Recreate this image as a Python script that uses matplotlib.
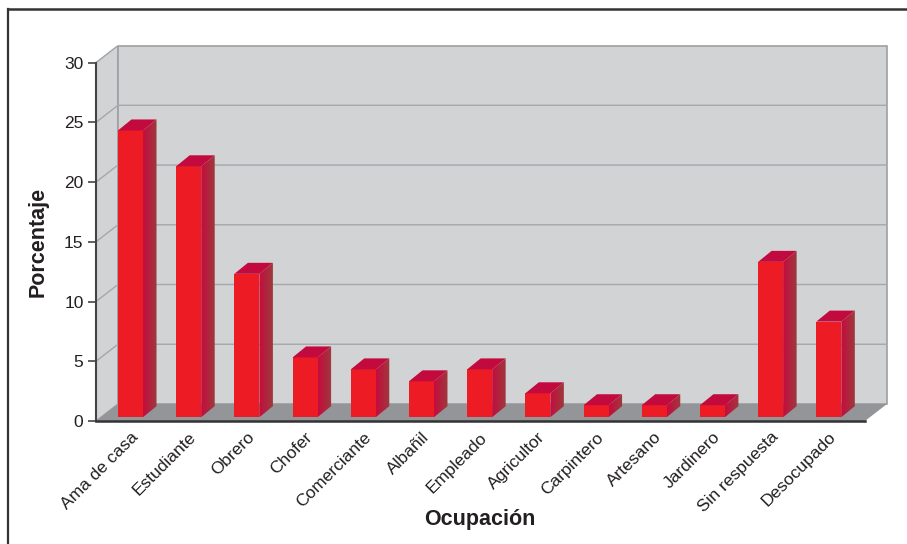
import numpy as np
import matplotlib
matplotlib.use("Agg")
import matplotlib.pyplot as plt
from matplotlib.patches import Polygon
from matplotlib.lines import Line2D
from matplotlib.colors import LinearSegmentedColormap
from matplotlib.transforms import ScaledTranslation

plt.rcParams['font.family'] = ['Liberation Sans', 'DejaVu Sans']

# Datos
ocupaciones = ['Ama de casa', 'Estudiante', 'Obrero', 'Chofer', 'Comerciante',
               'Albañil', 'Empleado', 'Agricultor', 'Carpintero', 'Artesano',
               'Jardinero', 'Sin respuesta', 'Desocupado']
porcentajes = [24, 21, 12, 5, 4, 3, 4, 2, 1, 1, 1, 13, 8]
yticks = [0, 5, 10, 15, 20, 25, 30]

# estilo pseudo 3D
wall = '#d1d3d4'
floor = '#939598'
grid_c = '#a5a7aa'
front_c = '#ed1c24'
top_c = '#c20a3e'
side_cmap = LinearSegmentedColormap.from_list('side', ['#c40c3e', '#9e3a3c'])

x0, x1 = -0.593, 13.0        # limites en x
ymax = 31.43
ddx, ddy = 0.378, 1.425       # profundidad de la caja
bw = 0.215                    # media anchura de la barra
bdx, bdy = 0.232, 0.92        # profundidad de la barra
boff = 0.32                   # barra algo detras del frente

fig = plt.figure(figsize=(9.07, 5.44), dpi=100)
ax = fig.add_axes([96 / 907, 123 / 544, 791 / 907, 375.5 / 544])
ax.set_xlim(x0, x1)
ax.set_ylim(0, ymax)

xf_end = x1 - ddx
ytop = yticks[-1]

# paredes y piso
ax.add_patch(Polygon([(x0, 0), (x0 + ddx, ddy), (x0 + ddx, ytop + ddy), (x0, ytop)],
                     closed=True, facecolor=wall, edgecolor='#a0a2a5', lw=1, zorder=1))
ax.add_patch(Polygon([(x0 + ddx, ddy), (x1, ddy), (x1, ytop + ddy), (x0 + ddx, ytop + ddy)],
                     closed=True, facecolor=wall, edgecolor='#9d9fa2', lw=1.2, zorder=1,
                     clip_on=False))
for v in yticks[1:-1]:
    ax.plot([x0, x0 + ddx, x1], [v, v + ddy, v + ddy], color=grid_c, lw=1, zorder=2)
ax.add_patch(Polygon([(x0, 0), (xf_end, 0), (x1, ddy), (x0 + ddx, ddy)],
                     closed=True, facecolor=floor, edgecolor='none', zorder=3))

# barras
grad = np.linspace(0, 1, 64).reshape(1, -1)
for i, v in enumerate(porcentajes):
    l, r = i - bw, i + bw
    b, t = boff, v + boff
    ax.add_patch(Polygon([(l, b), (r, b), (r, t), (l, t)], closed=True,
                         facecolor=front_c, edgecolor='none', zorder=5))
    ax.add_patch(Polygon([(l, t), (r, t), (r + bdx, t + bdy), (l + bdx, t + bdy)],
                         closed=True, facecolor=top_c, edgecolor='none', zorder=5))
    side = Polygon([(r, b), (r + bdx, b + bdy), (r + bdx, t + bdy), (r, t)],
                   closed=True, facecolor='none', edgecolor='none', zorder=5)
    ax.add_patch(side)
    im = ax.imshow(grad, cmap=side_cmap, aspect='auto', extent=(r, r + bdx, b, t + bdy),
                   zorder=5, interpolation='bilinear')
    im.set_clip_path(side)

ax.set_xlim(x0, x1)
ax.set_ylim(0, ymax)

# ejes
for s in ['top', 'right']:
    ax.spines[s].set_visible(False)
ax.spines['left'].set_bounds(0, ytop)
ax.spines['left'].set_color('#444444')
ax.spines['left'].set_linewidth(1.5)
ax.spines['bottom'].set_bounds(x0, xf_end)
ax.spines['bottom'].set_color('#333333')
ax.spines['bottom'].set_linewidth(1.8)
for s in ax.spines.values():
    s.set_zorder(6)

ax.set_yticks(yticks)
ax.tick_params(axis='y', length=6, width=1.2, color='#444444', pad=3, labelsize=12.5,
               labelcolor='#231f20')
ax.set_xticks(range(len(ocupaciones)))
ax.set_xticklabels(ocupaciones, rotation=45, ha='right', va='center',
                   rotation_mode='anchor', fontsize=12.5, color='#231f20')
ax.tick_params(axis='x', length=0, pad=10)
for lab in ax.get_xticklabels():
    lab.set_transform(lab.get_transform() + ScaledTranslation(0.05, 0, fig.dpi_scale_trans))

fig.text(38 / 907, 1 - 242 / 544, 'Porcentaje', rotation=90, ha='center', va='center',
         fontsize=15.5, fontweight='bold', color='#231f20')
fig.text(480 / 907, 1 - 519 / 544, 'Ocupación', ha='center', va='center',
         fontsize=15.5, fontweight='bold', color='#231f20')

# marco
fig.add_artist(Line2D([8 / 907, 8 / 907], [0, 1 - 9 / 544], color='#333333', lw=1.6))
fig.add_artist(Line2D([8 / 907, 1], [1 - 9 / 544, 1 - 9 / 544], color='#333333', lw=1.8))

fig.savefig('out.png', dpi=100)
